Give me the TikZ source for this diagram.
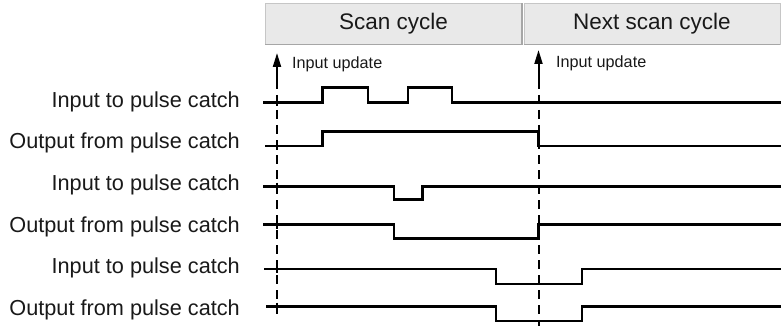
\documentclass[tikz,border=0pt]{standalone}
\usepackage{fontspec}
\setmainfont{Liberation Sans}
\usetikzlibrary{arrows.meta}

\begin{document}
\begin{tikzpicture}[>=Stealth,x=1pt,y=-1pt,
  cyclebox/.style={draw=gray!45,fill=gray!17,line width=0.8pt,minimum width=256pt,minimum height=41pt,
    font=\fontsize{22.5}{26}\selectfont,text=black!90},
  rowlbl/.style={font=\fontsize{21.7}{25}\selectfont,anchor=east,text=black!90,inner sep=0pt},
  updlbl/.style={font=\fontsize{16.2}{19}\selectfont,anchor=west,text=black!90,inner sep=0pt},
  sig/.style={line width=2.8pt,line join=miter,black},
  tickln/.style={line width=2pt,black},
  update/.style={line width=2pt,dash pattern=on 9pt off 6pt,black},
  updarrow/.style={line width=2pt,black,-{Triangle[length=14pt,width=8pt]}}]
\useasboundingbox (0,0) rectangle (781,326);
% cycle headers
\node[cyclebox] (scan) at (393.5,23.5) {Scan cycle};
\node[cyclebox] (next) at (652,24) {Next scan cycle};
\draw[gray!70,line width=1.2pt] (scan.south west) -- (scan.south east) -- (scan.north east);
\draw[gray!70,line width=1.2pt] (next.south west) -- (next.south east);
% input update markers
\coordinate (u1) at (277,80);
\coordinate (u1top) at (277,53);
\coordinate (u1bot) at (277,316);
\coordinate (u2) at (538.5,80);
\coordinate (u2top) at (538.5,50);
\coordinate (u2bot) at (538.5,326);
\draw[updarrow] (u1) -- (u1top);
\draw[update] (u1) -- (u1bot);
\draw[updarrow] (u2) -- (u2top);
\draw[update] (u2) -- (u2bot);
\node[updlbl] (upd1) at (292,64) {Input update};
\node[updlbl] (upd2) at (556,63) {Input update};
% row labels
\node[rowlbl] (in1)  at (240,102) {Input to pulse catch};
\node[rowlbl] (out1) at (240,143) {Output from pulse catch};
\node[rowlbl] (in2)  at (240,185) {Input to pulse catch};
\node[rowlbl] (out2) at (240,227) {Output from pulse catch};
\node[rowlbl] (in3)  at (240,268) {Input to pulse catch};
\node[rowlbl] (out3) at (240,310) {Output from pulse catch};
% two short pulses, both caught
\draw[sig] (263,102.5) -- (322.5,102.5) -- (322.5,87.5) -- (368,87.5) -- (368,102.5)
  -- (408,102.5) -- (408,87.5) -- (452,87.5) -- (452,102.5) -- (781,102.5);
\draw[sig] (265,146) -- (322.5,146) -- (322.5,131.5) -- (538.5,131.5) -- (538.5,146) -- (781,146);
% short negative pulse
\draw[sig] (263,186.5) -- (394,186.5) -- (394,199.5) -- (422.5,199.5) -- (422.5,186.5) -- (781,186.5);
\draw[sig] (263,224.5) -- (394,224.5) -- (394,238.5) -- (538.5,238.5) -- (538.5,224.5) -- (781,224.5);
% negative pulse across the update
\draw[sig] (264,269) -- (496,269) -- (496,284) -- (582,284) -- (582,269) -- (781,269);
\draw[sig] (266,306.5) -- (496,306.5) -- (496,321) -- (582,321) -- (582,306.5) -- (781,306.5);
% ticks where the first update crosses each trace
\foreach \yy in {102.5,146,186.5,224.5,269,306.5}
  \draw[tickln] (277,\yy-4) -- (277,\yy+4);
\end{tikzpicture}
\end{document}
